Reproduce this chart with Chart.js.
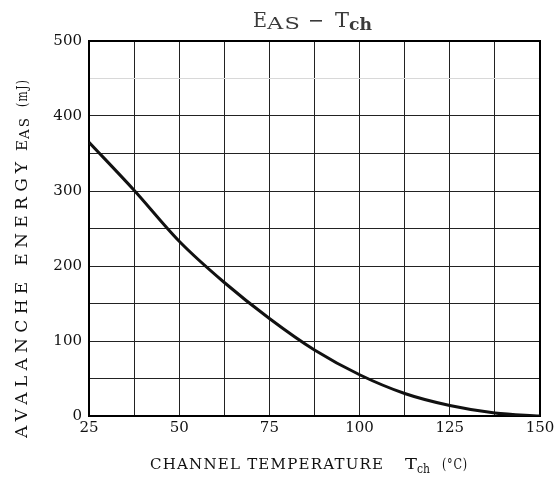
<!DOCTYPE html>
<html>
<head>
<meta charset="utf-8">
<script src="https://cdn.jsdelivr.net/npm/chart.js@4"></script>
<style>
html,body{margin:0;padding:0;background:#fff;}
#wrap{width:560px;height:483px;position:relative;}
</style>
</head>
<body>
<div id="wrap"><canvas id="c" width="560" height="483"></canvas></div>
<script>
// Data
const temperatures = [25, 37.5, 50, 62.5, 75, 87.5, 100, 112.5, 125, 137.5, 150];
const energies     = [365, 301, 233, 178, 130, 88, 55, 30, 14, 4, 0];
const xTickLabels  = [25, 50, 75, 100, 125, 150];
const yTickLabels  = [0, 100, 200, 300, 400, 500];

const SERIF = '"DejaVu Serif", "Liberation Serif", serif';

function run(ctx, text, font, x, y, width, spacing) {
  ctx.font = font;
  ctx.letterSpacing = (spacing || 0) + 'px';
  const w = ctx.measureText(text).width - (spacing || 0);
  ctx.save();
  ctx.translate(x, y);
  if (width) ctx.scale(width / w, 1);
  ctx.fillText(text, 0, 0);
  ctx.restore();
  ctx.letterSpacing = '0px';
}

const labelsPlugin = {
  id: 'labels',
  beforeDatasetsDraw(chart) {
    const ctx = chart.ctx, a = chart.chartArea;
    ctx.save();
    ctx.strokeStyle = '#000';
    ctx.lineWidth = 2;
    ctx.strokeRect(a.left, a.top, a.right - a.left, a.bottom - a.top);
    ctx.restore();
  },
  afterDraw(chart) {
    const ctx = chart.ctx;
    ctx.save();
    ctx.textAlign = 'left';
    ctx.textBaseline = 'alphabetic';
    // Title
    ctx.fillStyle = '#3a3a3a';
    run(ctx, 'E', '20px ' + SERIF, 253, 27, 14);
    run(ctx, 'AS', '16px ' + SERIF, 267, 29, 33, 1);
    ctx.fillRect(310, 20, 12, 1.6);
    run(ctx, 'T', '20px ' + SERIF, 335, 27, 14);
    run(ctx, 'ch', 'bold 16px ' + SERIF, 349, 30, 23);
    // X axis title
    ctx.fillStyle = '#111';
    run(ctx, 'CHANNEL TEMPERATURE', '15px ' + SERIF, 150, 469, 233, 1.2);
    run(ctx, 'T', '15px ' + SERIF, 405, 469, 12);
    run(ctx, 'ch', '13px ' + SERIF, 417, 473, 13);
    run(ctx, '(\u00B0C)', '15px ' + SERIF, 442, 469, 25, 1);
    // Y axis title (rotated)
    ctx.translate(27, 438);
    ctx.rotate(-Math.PI / 2);
    run(ctx, 'AVALANCHE ENERGY', '16px ' + SERIF, 0, 0, 276, 5);
    run(ctx, 'E', '15px ' + SERIF, 287, 0, 11);
    run(ctx, 'AS', '13px ' + SERIF, 299, 2, 21, 2);
    run(ctx, '(mJ)', '15px ' + SERIF, 331, 0, 27, 2);
    ctx.restore();
  }
};

new Chart(document.getElementById('c'), {
  type: 'line',
  data: {
    datasets: [{
      data: temperatures.map((t, i) => ({ x: t, y: energies[i] })),
      borderColor: '#111',
      borderWidth: 3,
      pointRadius: 0,
      cubicInterpolationMode: 'monotone',
      fill: false
    }]
  },
  options: {
    responsive: false,
    animation: false,
    devicePixelRatio: 1,
    layout: { padding: { top: 41, left: 0, right: 20, bottom: 0 } },
    plugins: { legend: { display: false }, title: { display: false }, tooltip: { enabled: false } },
    scales: {
      x: {
        type: 'linear', min: 25, max: 150,
        afterBuildTicks(s) {
          const t = [];
          for (let v = 25; v <= 150; v += 12.5) t.push({ value: v });
          s.ticks = t;
        },
        afterFit(s) { s.height = 67; },
        ticks: {
          autoSkip: false, maxRotation: 0, padding: 3,
          color: '#111', font: { family: SERIF, size: 15 },
          callback: v => xTickLabels.includes(v) ? String(v) : ''
        },
        grid: { color: '#222', lineWidth: 1, drawTicks: false },
        border: { color: '#000', width: 2 }
      },
      y: {
        type: 'linear', min: 0, max: 500,
        afterBuildTicks(s) {
          const t = [];
          for (let v = 0; v <= 500; v += 50) t.push({ value: v });
          s.ticks = t;
        },
        afterFit(s) { s.width = 89; },
        ticks: {
          autoSkip: false, padding: 7,
          color: '#111', font: { family: SERIF, size: 15 },
          callback: v => yTickLabels.includes(v) ? String(v) : ''
        },
        grid: {
          drawTicks: false, lineWidth: 1,
          color: c => (c.tick && c.tick.value === 450) ? '#d8d8d8' : '#222'
        },
        border: { color: '#000', width: 2 }
      }
    }
  },
  plugins: [labelsPlugin]
});
</script>
</body>
</html>
